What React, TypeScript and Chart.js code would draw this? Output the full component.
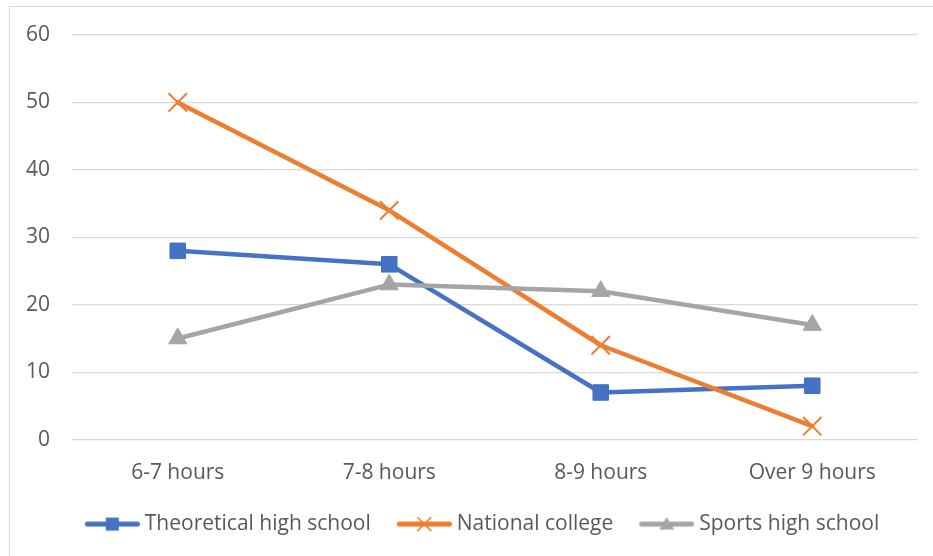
import React, { useEffect, useRef } from "react";
import { Chart, registerables } from "chart.js";

Chart.register(...registerables);

const categories = ["6-7 hours", "7-8 hours", "8-9 hours", "Over 9 hours"];
const seriesNames = ["Theoretical high school", "National college", "Sports high school"];
const theoretical = [28, 26, 7, 8];
const national = [50, 34, 14, 2];
const sports = [15, 23, 22, 17];
const yMin = 0;
const yMax = 60;
const yStep = 10;

const COLORS = ["#4472C4", "#ED7D31", "#A5A5A5"];
const STYLES = ["rect", "crossRot", "triangle"];
const FONT = "'Open Sans', sans-serif";
const TEXT = "#595959";

function legendIcon(color: string, style: string) {
  const c = document.createElement("canvas");
  const I = 75;
  c.width = I;
  c.height = 20;
  const ctx = c.getContext("2d")!;
  ctx.strokeStyle = color;
  ctx.fillStyle = color;
  ctx.lineWidth = 5;
  ctx.lineCap = "round";
  ctx.beginPath();
  ctx.moveTo(I - 55 + 2.5, 10);
  ctx.lineTo(I - 2.5, 10);
  ctx.stroke();
  const cx = I - 27.5;
  const cy = 10;
  if (style === "rect") {
    ctx.fillRect(cx - 6.5, cy - 6.5, 13, 13);
  } else if (style === "crossRot") {
    ctx.lineWidth = 1.75;
    ctx.lineCap = "butt";
    ctx.beginPath();
    ctx.moveTo(cx - 7, cy - 7);
    ctx.lineTo(cx + 7, cy + 7);
    ctx.moveTo(cx + 7, cy - 7);
    ctx.lineTo(cx - 7, cy + 7);
    ctx.stroke();
  } else {
    ctx.beginPath();
    ctx.moveTo(cx, cy - 7);
    ctx.lineTo(cx + 7.5, cy + 5.5);
    ctx.lineTo(cx - 7.5, cy + 5.5);
    ctx.closePath();
    ctx.fill();
  }
  return c;
}

const legendShift = {
  id: "legendShift",
  afterLayout(chart: any) {
    if (chart.legend) {
      chart.legend.left += 7;
    }
  },
};

export default function App() {
  const ref = useRef<HTMLCanvasElement | null>(null);

  useEffect(() => {
    if (!ref.current) return;
    const values = [theoretical, national, sports];
    const radii = [11, 13, 10.5];
    const icons = COLORS.map((c, i) => legendIcon(c, STYLES[i]));
    const chart = new Chart(ref.current, {
      type: "line",
      data: {
        labels: categories,
        datasets: seriesNames.map((name, i) => ({
          label: name,
          data: values[i],
          borderColor: COLORS[i],
          backgroundColor: COLORS[i],
          borderWidth: 4.5,
          pointStyle: STYLES[i] as any,
          pointRadius: radii[i],
          pointBorderWidth: i === 1 ? 2 : 1,
          pointBackgroundColor: COLORS[i],
          pointBorderColor: COLORS[i],
          borderJoinStyle: "round" as const,
          borderCapStyle: "round" as const,
          tension: 0,
          order: 3 - i,
        })),
      },
      options: {
        animation: false,
        responsive: false,
        maintainAspectRatio: false,
        layout: { padding: { left: 24.5, right: 15, top: 35, bottom: 11.4 } },
        plugins: {
          tooltip: { enabled: false },
          legend: {
            position: "bottom",
            labels: {
              usePointStyle: true,
              pointStyleWidth: 64,
              padding: 11.5,
              color: TEXT,
              font: { family: FONT, size: 21 },
              generateLabels: (ch: any) =>
                ch.data.datasets.map((ds: any, i: number) => ({
                  text: ds.label,
                  fillStyle: COLORS[i],
                  strokeStyle: COLORS[i],
                  lineWidth: 0,
                  pointStyle: icons[i],
                  fontColor: TEXT,
                  hidden: false,
                  datasetIndex: i,
                })),
            },
          },
        },
        scales: {
          x: {
            offset: true,
            grid: { display: false, drawTicks: false },
            border: { display: false },
            ticks: { color: TEXT, font: { family: FONT, size: 21 }, padding: 21, maxRotation: 0 },
            afterFit: (s: any) => {
              s.height = 62.4;
            },
          },
          y: {
            min: yMin,
            max: yMax,
            grid: { color: "#D9D9D9", lineWidth: 1.3, drawTicks: false },
            border: { display: false },
            ticks: { stepSize: yStep, color: TEXT, font: { family: FONT, size: 21 }, padding: 22 },
            afterFit: (s: any) => {
              s.width = 47.5;
            },
          },
        },
      },
      plugins: [legendShift],
    });
    return () => chart.destroy();
  }, []);

  return (
    <div
      style={{
        position: "fixed",
        left: 0,
        top: 0,
        width: 933,
        height: 556,
        background: "#fff",
        overflow: "hidden",
      }}
    >
      <div
        style={{
          position: "absolute",
          left: 9,
          top: 6,
          width: 1000,
          height: 1000,
          border: "1.5px solid #D9D9D9",
        }}
      />
      <canvas
        ref={ref}
        width={933}
        height={556}
        style={{ position: "absolute", left: 0, top: 0, width: 933, height: 556 }}
      />
    </div>
  );
}
